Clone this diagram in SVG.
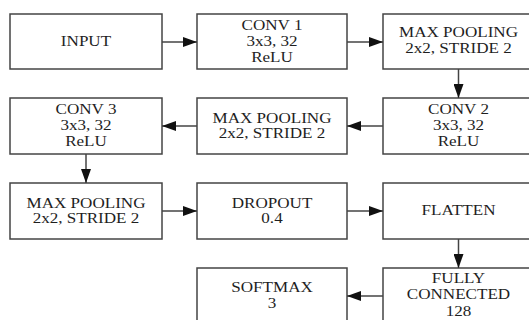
<svg xmlns="http://www.w3.org/2000/svg" width="529" height="320" viewBox="0 0 529 320">
<style>
.box{fill:#ffffff;stroke:#444444;stroke-width:1.5}
.sh{fill:none;stroke:#d8d8d8;stroke-width:1.5}
.t{font-family:"Liberation Serif","Times New Roman",serif;font-size:14px;fill:#1e1e1e;text-anchor:middle}
.c{stroke:#444444;stroke-width:1.5;fill:none;marker-end:url(#ah)}
</style>
<defs>
<marker id="ah" markerUnits="userSpaceOnUse" markerWidth="14" markerHeight="10" refX="14" refY="5" orient="auto">
<path d="M0,0 L14,5 L0,10 Z" fill="#111111"/>
</marker>
</defs>
<rect width="529" height="320" fill="#ffffff"/>
<g id="input">
<rect class="box" x="10" y="14" width="152" height="55"/>
<g transform="translate(86,0) scale(1.22,1)"><text class="t" x="0" y="46">INPUT</text></g>
</g>
<g id="conv1">
<rect class="box" x="197" y="14" width="150" height="55"/>
<g transform="translate(272,0) scale(1.22,1)"><text class="t" x="0" y="30">CONV  1</text><text class="t" x="0" y="46">3x3, 32</text><text class="t" x="0" y="62">ReLU</text></g>
</g>
<g id="maxpool1">
<rect class="box" x="383" y="14" width="151" height="55"/>
<g transform="translate(458.5,0) scale(1.22,1)"><text class="t" x="0" y="37">MAX POOLING</text><text class="t" x="0" y="53">2x2, STRIDE 2</text></g>
</g>
<g id="conv2">
<rect class="box" x="383" y="98" width="151" height="56"/>
<g transform="translate(458.5,0) scale(1.22,1)"><text class="t" x="0" y="114">CONV  2</text><text class="t" x="0" y="130">3x3, 32</text><text class="t" x="0" y="146">ReLU</text></g>
</g>
<g id="maxpool2">
<rect class="box" x="197" y="98" width="150" height="56"/>
<g transform="translate(272,0) scale(1.22,1)"><text class="t" x="0" y="123">MAX POOLING</text><text class="t" x="0" y="138.5">2x2, STRIDE 2</text></g>
</g>
<g id="conv3">
<rect class="box" x="10" y="98" width="152" height="56"/>
<g transform="translate(86,0) scale(1.22,1)"><text class="t" x="0" y="114">CONV  3</text><text class="t" x="0" y="130">3x3, 32</text><text class="t" x="0" y="146">ReLU</text></g>
</g>
<g id="maxpool3">
<rect class="box" x="10" y="183" width="152" height="56"/>
<g transform="translate(86,0) scale(1.22,1)"><text class="t" x="0" y="208">MAX POOLING</text><text class="t" x="0" y="223.5">2x2, STRIDE 2</text></g>
</g>
<g id="dropout">
<rect class="box" x="197" y="183" width="150" height="56"/>
<g transform="translate(272,0) scale(1.22,1)"><text class="t" x="0" y="208">DROPOUT</text><text class="t" x="0" y="223.5">0.4</text></g>
</g>
<g id="flatten">
<rect class="box" x="383" y="183" width="151" height="56"/>
<g transform="translate(458.5,0) scale(1.22,1)"><text class="t" x="0" y="215.5">FLATTEN</text></g>
</g>
<g id="fully_connected">
<rect class="box" x="383" y="268" width="151" height="60"/>
<g transform="translate(458.5,0) scale(1.22,1)"><text class="t" x="0" y="283">FULLY</text><text class="t" x="0" y="299.5">CONNECTED</text><text class="t" x="0" y="316">128</text></g>
</g>
<g id="softmax">
<rect class="box" x="197" y="268" width="150" height="60"/>
<g transform="translate(272,0) scale(1.22,1)"><text class="t" x="0" y="292">SOFTMAX</text><text class="t" x="0" y="308.5">3</text></g>
</g>
<g id="connectors">
<line class="c" x1="162" y1="42" x2="197" y2="42"/>
<line class="c" x1="347" y1="42" x2="383" y2="42"/>
<line class="c" x1="458.5" y1="69" x2="458.5" y2="98"/>
<line class="c" x1="383" y1="126" x2="347" y2="126"/>
<line class="c" x1="197" y1="126" x2="162" y2="126"/>
<line class="c" x1="86" y1="154" x2="86" y2="183"/>
<line class="c" x1="162" y1="211" x2="197" y2="211"/>
<line class="c" x1="347" y1="211" x2="383" y2="211"/>
<line class="c" x1="458.5" y1="239" x2="458.5" y2="268"/>
<line class="c" x1="383" y1="296" x2="347" y2="296"/>
</g>
</svg>
